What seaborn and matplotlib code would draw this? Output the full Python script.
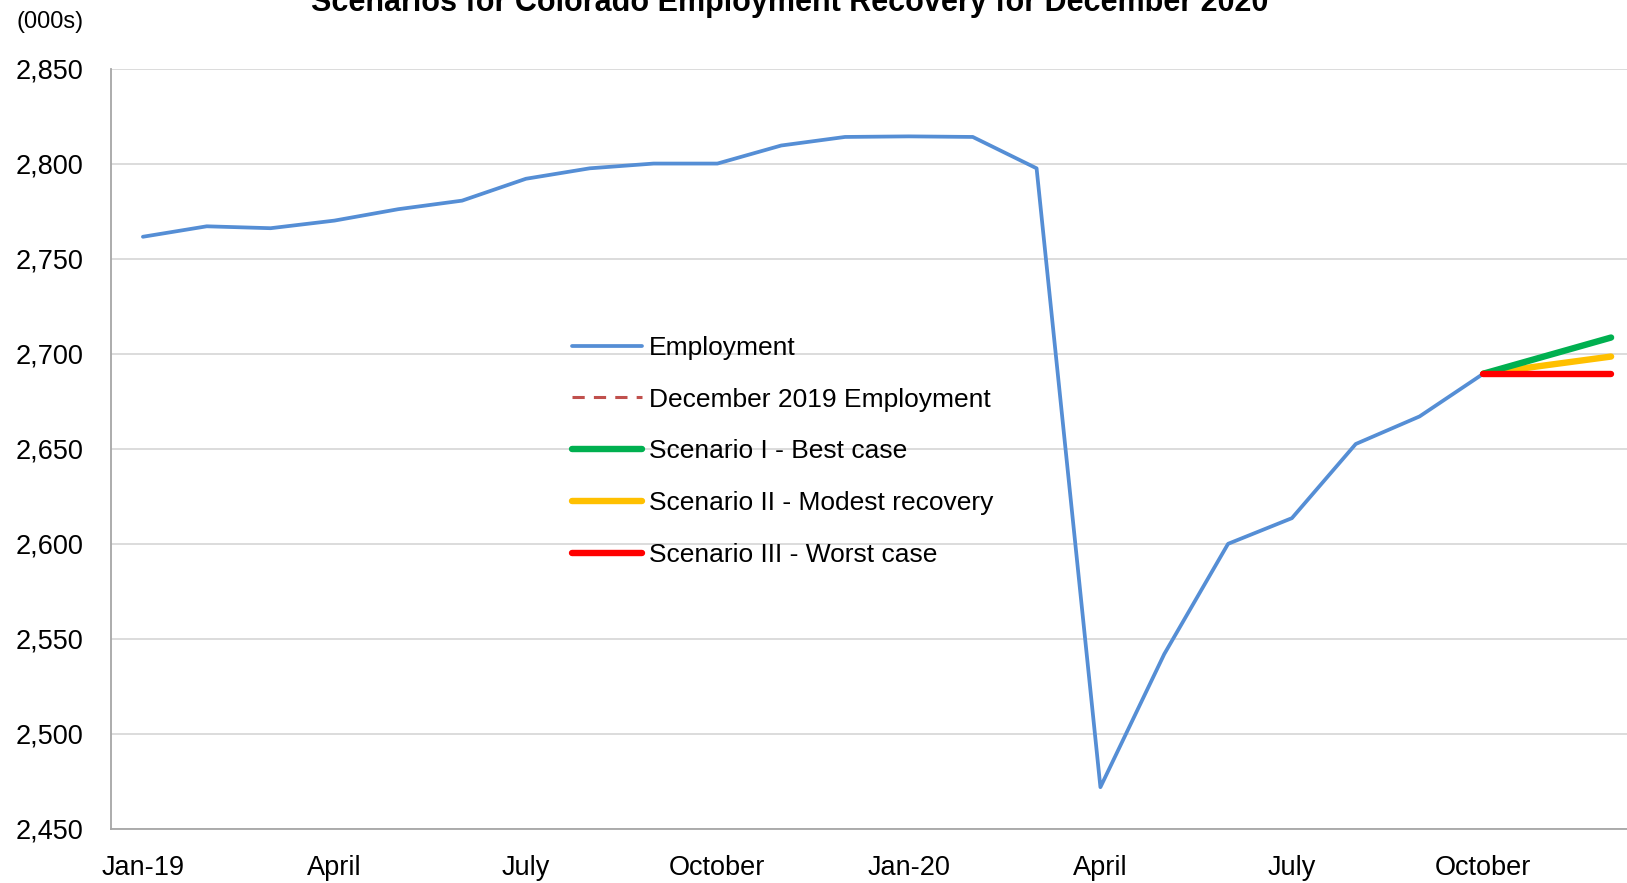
import numpy as np
import pandas as pd
import matplotlib
matplotlib.use("Agg")
import matplotlib.pyplot as plt
from matplotlib.lines import Line2D
from matplotlib.ticker import FuncFormatter, FixedLocator
import seaborn as sns

# ---- data ----
months = ["Jan-19", "Feb-19", "Mar-19", "Apr-19", "May-19", "Jun-19", "Jul-19", "Aug-19",
          "Sep-19", "Oct-19", "Nov-19", "Dec-19", "Jan-20", "Feb-20", "Mar-20", "Apr-20",
          "May-20", "Jun-20", "Jul-20", "Aug-20", "Sep-20", "Oct-20", "Nov-20", "Dec-20"]
employment = [2761.5, 2767, 2766, 2770, 2776, 2780.5, 2792, 2797.5, 2800, 2800, 2809.5, 2814,
              2814.3, 2814, 2797.5, 2472, 2542, 2600, 2613.5, 2652.5, 2667, 2689.5,
              np.nan, np.nan]
dec2019 = [np.nan] * 24
scen1 = [np.nan] * 21 + [2689.5, 2699, 2708.5]
scen2 = [np.nan] * 21 + [2689.5, 2694, 2698.5]
scen3 = [np.nan] * 21 + [2689.5, 2689.5, 2689.5]
tick_labels = ["Jan-19", "April", "July", "October", "Jan-20", "April", "July", "October"]
series_names = ["Employment", "December 2019 Employment", "Scenario I - Best case",
                "Scenario II - Modest recovery", "Scenario III - Worst case"]
title = "Scenarios for Colorado Employment Recovery for December 2020"

df = pd.DataFrame({"idx": np.arange(len(months)), "month": months,
                   series_names[0]: employment, series_names[1]: dec2019,
                   series_names[2]: scen1, series_names[3]: scen2, series_names[4]: scen3})

sns.set_theme(style="white")
FONT = ["Liberation Sans", "DejaVu Sans"]
plt.rcParams["font.family"] = FONT

W, H = 1627, 883
fig = plt.figure(figsize=(W / 100, H / 100), dpi=100)
ax = fig.add_axes([111 / W, 54 / H, 1532 / W, (829 - 68.5) / H])

styles = {
    series_names[0]: dict(color="#558ED5", lw=2.7, ls="-"),
    series_names[1]: dict(color="#C0504D", lw=2.2, ls=(0, (4, 3))),
    series_names[2]: dict(color="#00B050", lw=4.6, ls="-"),
    series_names[3]: dict(color="#FFC000", lw=4.6, ls="-"),
    series_names[4]: dict(color="#FF0000", lw=4.6, ls="-"),
}
draw_order = [series_names[0], series_names[1], series_names[3], series_names[2], series_names[4]]
for name in draw_order:
    st = styles[name]
    sub = df[["idx", name]].dropna()
    if len(sub) == 0:
        continue
    sns.lineplot(data=sub, x="idx", y=name, ax=ax, color=st["color"], linewidth=st["lw"],
                 linestyle=st["ls"], solid_capstyle="round", solid_joinstyle="round",
                 legend=False, zorder=3)

ax.set_xlim(-0.5, len(months) - 0.5)
ax.set_ylim(2450, 2850)
ax.set_yticks(np.arange(2450, 2851, 50))
ax.yaxis.set_major_formatter(FuncFormatter(lambda v, p: f"{int(v):,}"))
ax.grid(axis="y", color="#d9d9d9", linewidth=1.3, zorder=0)
ax.grid(axis="x", visible=False)

ax.xaxis.set_major_locator(FixedLocator(np.arange(0, 24, 3)))
ax.set_xticklabels(tick_labels)
ax.xaxis.set_minor_locator(FixedLocator(np.arange(-0.5, 24, 3)))
ax.tick_params(axis="x", which="major", length=0, pad=19, labelsize=19.5, labelcolor="black")
ax.tick_params(axis="x", which="minor", length=8, width=1.2, color="#a6a6a6", direction="out")
ax.tick_params(axis="y", which="major", length=8, width=1.2, color="#a6a6a6", direction="out",
               pad=12, labelsize=19.5, labelcolor="black")
ax.set_xlabel("")
ax.set_ylabel("")

for s in ["top", "right"]:
    ax.spines[s].set_visible(False)
for s in ["left", "bottom"]:
    ax.spines[s].set_color("#a6a6a6")
    ax.spines[s].set_linewidth(1.3)

handles = [Line2D([0], [0], color=styles[n]["color"], lw=styles[n]["lw"],
                  ls=styles[n]["ls"], solid_capstyle="round") for n in series_names]
leg = ax.legend(handles, series_names, loc="upper left",
                bbox_to_anchor=(572 / W, (H - 336) / H), bbox_transform=fig.transFigure,
                frameon=False, fontsize=19, handlelength=2.65, handletextpad=0.27,
                labelspacing=1.05, borderpad=0, borderaxespad=0)
for t in leg.get_texts():
    t.set_color("black")

fig.text(790 / W, 1 - 10.5 / H, title, ha="center", va="baseline", fontsize=22,
         fontweight="bold", color="black")
fig.text(17 / W, 1 - 22 / H, "(000s)", ha="left", va="center", fontsize=17, color="black")

fig.savefig("out.png", dpi=100)
